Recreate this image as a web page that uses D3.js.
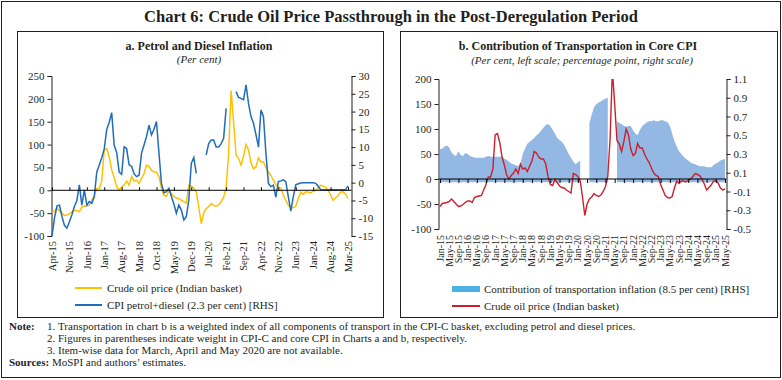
<!DOCTYPE html>
<html><head><meta charset="utf-8">
<script src="https://cdn.jsdelivr.net/npm/d3@7"></script>
<style>
body{margin:0;background:#fff}
text{font-family:"Liberation Serif","Times New Roman",serif;fill:#231f20}
</style>
</head><body>
<svg id="c" width="782" height="380"></svg>
<script>
// ---------------- DATA ----------------
// Monthly categories Jan-15 .. May-25
const months = d3.timeMonth.range(new Date(2015,0,1), new Date(2025,5,1)).map(d3.timeFormat("%b-%y"));
const leftMonths = months.slice(3, 123); // Apr-15 .. Mar-25

// Crude oil price (Indian basket), y-o-y per cent, Jan-15 .. May-25
const crudeOil = [
 -55,-49,-48,
 -47,-45,-40,-45,-50,-55,-54,-51,-47,-44,
 -44,-47,-37,-35,-34,-33,-22,-11,4,4,
 20,88,91,73,44,28,8,0,7,12,
 20,11,30,20,22,15,26,36,55,52,
 44,40,40,30,5,-11,-13,-1,-7,-14,
 -17,-18,-22,-25,-28,11,9,5,-4,-36,
 -73,-50,-40,-36,-29,-33,-35,-32,-25,-15,
 5,80,218,150,77,70,55,75,100,88,
 60,47,51,71,62,62,50,40,33,22,
 12,7,5,-11,-22,-33,-37,-38,-35,-18,
 -4,-9,-4,-4,-6,-2,0,5,11,9,
 7,0,-10,-22,-17,-12,-4,-3,-8,-18,
 -22,-20
];

// CPI petrol+diesel, y-o-y per cent, Apr-15 .. Mar-25 (null = not available)
const cpiPetrolDiesel = [
 -15,-10,-6.5,-6.3,-9.5,-12,-12.8,-11,-9,-6.7,
 -5,-0.6,-6.3,-2,-6.3,-5.3,-5.8,-4,3,5,
 7,9.5,15,17,19.7,10.5,8.5,3,2.4,10.1,
 9.6,5,4.6,2.5,1.7,2.1,8.3,10.6,13,16.2,
 13.4,15,17.2,8.3,-0.2,-2.9,-2.5,-1.6,-3.9,-6,
 -8.6,-6.3,-7.7,-10.5,-9.6,-4.9,5.4,7.1,2.6,null,
 null,null,7.8,11,12,12,10,10,11,12.5,
 20.9,null,null,null,25.6,24,23.7,23.3,27.5,22.3,
 18.6,16.7,13.5,10,20.4,18.6,8.3,-0.2,-1.1,-0.7,
 -4.1,0.3,0.5,0.8,0.3,-3.9,-8,-4,-0.6,-0.3,
 -0.1,0,0,0,0,0,-0.2,-1,-2,-2,
 -2,-2,-2,-2,-2,-2,-2,-2,-2,-0.9
];

// Contribution of transportation inflation to core CPI, percentage points, Jan-15 .. May-25
const transportContribution = [
 0.35,0.36,0.38,0.39,0.37,0.32,0.29,0.28,0.33,0.29,
 0.28,0.31,0.30,0.28,0.27,0.26,0.26,0.26,0.26,0.26,
 0.27,0.28,0.27,0.27,0.27,0.27,0.27,0.27,0.25,0.24,
 0.22,0.20,0.19,0.18,0.17,0.20,0.30,0.36,0.41,0.43,
 0.45,0.47,0.50,0.52,0.55,0.58,0.61,0.62,0.60,0.56,
 0.52,0.47,0.45,0.43,0.40,0.35,0.30,0.26,0.22,0.19,
 0.21,0.23,null,null,null,0.63,0.72,0.80,0.83,0.85,
 0.86,0.88,0.89,0.90,null,null,null,0.65,0.63,0.62,
 0.60,0.59,0.60,0.60,0.55,0.52,0.50,0.56,0.60,0.62,
 0.64,0.65,0.65,0.66,0.65,0.65,0.66,0.66,0.65,0.64,
 0.60,0.52,0.44,0.38,0.33,0.30,0.27,0.25,0.23,0.21,
 0.20,0.19,0.18,0.17,0.17,0.17,0.16,0.16,0.16,0.18,
 0.20,0.21,0.23,0.24,0.25
];

const leftTickLabels = ["Apr-15","Nov-15","Jun-16","Jan-17","Aug-17","Mar-18","Oct-18","May-19","Dec-19","Jul-20","Feb-21","Sep-21","Apr-22","Nov-22","Jun-23","Jan-24","Aug-24","Mar-25"];
const rightTickLabels = ["Jan-15","May-15","Sep-15","Jan-16","May-16","Sep-16","Jan-17","May-17","Sep-17","Jan-18","May-18","Sep-18","Jan-19","May-19","Sep-19","Jan-20","May-20","Sep-20","Jan-21","May-21","Sep-21","Jan-22","May-22","Sep-22","Jan-23","May-23","Sep-23","Jan-24","May-24","Sep-24","Jan-25","May-25"];
const leftTicksL = [-100,-50,0,50,100,150,200,250];
const leftTicksR = [-15,-10,-5,0,5,10,15,20,25,30];
const rightTicksL = [-100,-50,0,50,100,150,200];
const rightTicksR = [-0.5,-0.3,-0.1,0.1,0.3,0.5,0.7,0.9,1.1];

// ---------------- DRAW ----------------
const svg = d3.select("#c");
const ink = "#231f20";

svg.append("rect").attr("x",1.5).attr("y",1.5).attr("width",779).attr("height",376)
  .attr("fill","none").attr("stroke",ink).attr("stroke-width",1);
svg.append("text").attr("x",391).attr("y",22).attr("text-anchor","middle")
  .attr("font-size",16.5).attr("font-weight","bold").text("Chart 6: Crude Oil Price Passthrough in the Post-Deregulation Period");

svg.append("rect").attr("x",17.5).attr("y",31.5).attr("width",366).attr("height",286)
  .attr("fill","none").attr("stroke",ink).attr("stroke-width",1);
svg.append("rect").attr("x",400.5).attr("y",31.5).attr("width",377).attr("height",286)
  .attr("fill","none").attr("stroke",ink).attr("stroke-width",1);

function styleAxis(g, size){
  g.attr("font-family",null).attr("font-size",null);
  g.selectAll("text").attr("font-size",size).style("fill",ink);
  g.selectAll("path,line").attr("stroke",ink);
}

const defs = svg.append("defs");
defs.append("clipPath").attr("id","clipL").append("rect").attr("x",51).attr("y",76).attr("width",300).attr("height",160);
defs.append("clipPath").attr("id","clipR").append("rect").attr("x",438).attr("y",79).attr("width",289).attr("height",150);

// ===== Panel a =====
svg.append("text").attr("x",199).attr("y",50).attr("text-anchor","middle").attr("font-size",12).attr("font-weight","bold").text("a. Petrol and Diesel Inflation");
svg.append("text").attr("x",199).attr("y",63).attr("text-anchor","middle").attr("font-size",11).attr("font-style","italic").text("(Per cent)");

const xL = d3.scalePoint().domain(leftMonths).range([52,348]);
const yL = d3.scaleLinear().domain([-100,250]).range([236,76]);
const yLR = d3.scaleLinear().domain([-15,30]).range([236,76]);

const gLa = svg.append("g").attr("transform","translate(51.5,0)")
  .call(d3.axisLeft(yL).tickValues(leftTicksL).tickSize(4).tickPadding(3).tickFormat(d=>String(d)));
styleAxis(gLa, 11);
const gLb = svg.append("g").attr("transform","translate(351.5,0)")
  .call(d3.axisRight(yLR).tickValues(leftTicksR).tickSize(4).tickPadding(3).tickFormat(d=>String(d)));
styleAxis(gLb, 11);

const plotL = svg.append("g").attr("clip-path","url(#clipL)");
plotL.append("path").datum(crudeOil.slice(3,123))
  .attr("fill","none").attr("stroke","#ffc000").attr("stroke-width",1.5)
  .attr("d", d3.line().x((d,i)=>xL(leftMonths[i])).y(d=>yL(d)));
plotL.append("path").datum(cpiPetrolDiesel)
  .attr("fill","none").attr("stroke","#1f6dbb").attr("stroke-width",1.5)
  .attr("d", d3.line().defined(d=>d!==null).x((d,i)=>xL(leftMonths[i])).y(d=>yLR(d)));

const gLx = svg.append("g").attr("transform",`translate(0,${yL(0)})`)
  .call(d3.axisBottom(xL).tickValues(leftTickLabels).tickSize(-3).tickSizeOuter(0).tickFormat(""));
gLx.select(".domain").attr("d",`M51.5,0H351.5`);
styleAxis(gLx, 10);
gLx.selectAll("path,line").attr("stroke","#000");

svg.append("g").selectAll("text").data(leftTickLabels).join("text")
  .attr("transform",d=>`translate(${xL(d)},241) rotate(-90)`)
  .attr("text-anchor","end").attr("dy","0.35em").attr("font-size",10.5).text(d=>d);

// legend a
const legA = svg.append("g");
legA.append("line").attr("x1",75).attr("x2",102).attr("y1",288).attr("y2",288).attr("stroke","#ffc000").attr("stroke-width",2);
legA.append("text").attr("x",107).attr("y",291.5).attr("font-size",11).text("Crude oil price (Indian basket)");
legA.append("line").attr("x1",75).attr("x2",102).attr("y1",305).attr("y2",305).attr("stroke","#1f6dbb").attr("stroke-width",2);
legA.append("text").attr("x",107).attr("y",308.5).attr("font-size",11).text("CPI petrol+diesel (2.3 per cent) [RHS]");

// ===== Panel b =====
svg.append("text").attr("x",578).attr("y",50).attr("text-anchor","middle").attr("font-size",12).attr("font-weight","bold").text("b. Contribution of Transportation in Core CPI");
svg.append("text").attr("x",582).attr("y",64).attr("text-anchor","middle").attr("font-size",11).attr("font-style","italic").text("(Per cent, left scale; percentage point, right scale)");

const xR = d3.scalePoint().domain(months).range([440,725]);
const yR = d3.scaleLinear().domain([-100,200]).range([229,79]);
const yRR = d3.scaleLinear().domain([-0.5,1.1]).range([229,79]);

const plotR = svg.append("g").attr("clip-path","url(#clipR)");
plotR.append("path").datum(transportContribution)
  .attr("fill","#93b8e4").attr("stroke","none")
  .attr("d", d3.area().defined(d=>d!==null).x((d,i)=>xR(months[i])).y0(yRR(0)).y1(d=>yRR(d)));

const gRx = svg.append("g").attr("transform",`translate(0,${yR(0)})`)
  .call(d3.axisBottom(xR).tickValues(rightTickLabels).tickSize(4).tickSizeOuter(0).tickFormat(""));
gRx.select(".domain").attr("d",`M438.5,0H726.5`);
styleAxis(gRx, 10);
gRx.selectAll("path,line").attr("stroke","#000");

plotR.append("path").datum(crudeOil)
  .attr("fill","none").attr("stroke","#cc1f2e").attr("stroke-width",1.4)
  .attr("d", d3.line().x((d,i)=>xR(months[i])).y(d=>yR(d)));

const gRa = svg.append("g").attr("transform","translate(438.5,0)")
  .call(d3.axisLeft(yR).tickValues(rightTicksL).tickSize(4).tickPadding(3).tickFormat(d=>String(d)));
styleAxis(gRa, 11);
const gRb = svg.append("g").attr("transform","translate(726.5,0)")
  .call(d3.axisRight(yRR).tickValues(rightTicksR).tickSize(4).tickPadding(3).tickFormat(d=>d.toFixed(1)));
styleAxis(gRb, 11);

svg.append("g").selectAll("text").data(rightTickLabels).join("text")
  .attr("transform",d=>`translate(${xR(d)},235) rotate(-90)`)
  .attr("text-anchor","end").attr("dy","0.35em").attr("font-size",10).text(d=>d);

// legend b
const legB = svg.append("g");
legB.append("rect").attr("x",452).attr("y",286).attr("width",28).attr("height",6).attr("fill","#4bb0e4");
legB.append("text").attr("x",484).attr("y",292.5).attr("font-size",11).text("Contribution of transportation inflation (8.5 per cent) [RHS]");
legB.append("line").attr("x1",452).attr("x2",480).attr("y1",306).attr("y2",306).attr("stroke","#cc1f2e").attr("stroke-width",2);
legB.append("text").attr("x",484).attr("y",309.5).attr("font-size",11).text("Crude oil price (Indian basket)");

// ===== Notes =====
const notes = svg.append("g");
const n1 = notes.append("text").attr("x",9).attr("y",330).attr("font-size",11);
n1.append("tspan").attr("font-weight","bold").text("Note:");
notes.append("text").attr("x",47).attr("y",330).attr("font-size",11).text("1.");
notes.append("text").attr("x",58).attr("y",330).attr("font-size",11).text("Transportation in chart b is a weighted index of all components of transport in the CPI-C basket, excluding petrol and diesel prices.");
notes.append("text").attr("x",47).attr("y",342).attr("font-size",11).text("2.");
notes.append("text").attr("x",58).attr("y",342).attr("font-size",11).text("Figures in parentheses indicate weight in CPI-C and core CPI in Charts a and b, respectively.");
notes.append("text").attr("x",47).attr("y",354).attr("font-size",11).text("3.");
notes.append("text").attr("x",58).attr("y",354).attr("font-size",11).text("Item-wise data for March, April and May 2020 are not available.");
const s1 = notes.append("text").attr("x",9).attr("y",366).attr("font-size",11);
s1.append("tspan").attr("font-weight","bold").text("Sources:");
s1.append("tspan").text(" MoSPI and authors\u2019 estimates.");
</script>
</body></html>
